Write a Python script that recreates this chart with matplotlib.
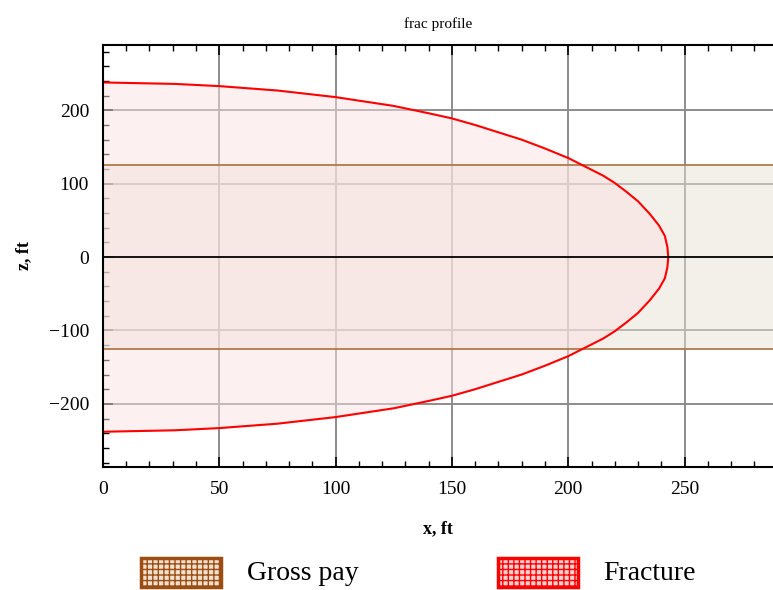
import matplotlib.pyplot as plt
from matplotlib.patches import Rectangle
from matplotlib.ticker import MultipleLocator
import numpy as np

# fracture half-height profile
frac_x = [0, 31, 50, 75, 100, 125, 140, 150, 160, 170, 180, 190, 200, 205, 210,
          215, 220, 225, 230, 235, 239, 241.5, 242.6, 243]
frac_z = [238, 236, 233, 227, 218, 206, 196, 189, 180, 170, 160, 148, 135, 127,
          119, 111, 101, 89, 76, 59, 43, 29, 14, 0]
gross_pay = 125
x_ticks = [0, 50, 100, 150, 200, 250]
z_ticks = [-200, -100, 0, 100, 200]

plt.rcParams['font.family'] = ['Liberation Serif', 'DejaVu Serif']

fig = plt.figure(figsize=(7.73, 5.9), dpi=100)
ax = fig.add_axes([0.1332, 0.2085, 0.8668, 0.7152])
xmax = 288
ax.set_xlim(0, xmax)
ax.set_ylim(-286, 289)

# grid
for gx in x_ticks[1:]:
    ax.axvline(gx, color='#8c8c8c', lw=1.4, zorder=1)
for gz in [-200, -100, 100, 200]:
    ax.axhline(gz, color='#8c8c8c', lw=1.4, zorder=1)

# gross pay band
ax.fill_between([0, xmax], -gross_pay, gross_pay, color='#e8e0d4', alpha=0.5, lw=0, zorder=2)
ax.axhline(gross_pay, color='#b07a4a', lw=1.3, zorder=4)
ax.axhline(-gross_pay, color='#b07a4a', lw=1.3, zorder=4)

# fracture
fx = np.array(frac_x)
fz = np.array(frac_z)
ax.fill_between(fx, -fz, fz, color='#fbe2e2', alpha=0.5, lw=0, zorder=3)
ax.plot(np.r_[fx, fx[::-1]], np.r_[fz, -fz[::-1]], color='red', lw=1.5, zorder=5)

ax.axhline(0, color='black', lw=1.3, zorder=5)

ax.spines['right'].set_visible(False)
for s in ['left', 'top', 'bottom']:
    ax.spines[s].set_linewidth(1.5)
    ax.spines[s].set_zorder(6)

ax.set_xticks(x_ticks)
ax.set_yticks(z_ticks)
ax.set_yticklabels(['\u2212200', '\u2212100', '0', '100', '200'])
ax.xaxis.set_minor_locator(MultipleLocator(10))
ax.yaxis.set_minor_locator(MultipleLocator(20))
ax.tick_params(which='both', direction='in', top=True, right=False, labeltop=False)
ax.tick_params(which='major', length=7, width=1.2, labelsize=14, pad=10)
ax.tick_params(which='minor', length=4, width=1.0)

ax.set_title('frac profile', fontsize=11, pad=12)
ax.set_xlabel('x, ft', fontsize=13, fontweight='bold', labelpad=16)
ax.set_ylabel('z, ft', fontsize=13, fontweight='bold', labelpad=12)

# legend below the plot
fig.patches.append(Rectangle((141 / 773, 1 - 587 / 590), 80 / 773, 29 / 590,
                             transform=fig.transFigure, facecolor='#f0e0d0',
                             edgecolor='#9c4e12', lw=2.5, hatch='+++'))
fig.patches.append(Rectangle((498 / 773, 1 - 587 / 590), 80 / 773, 29 / 590,
                             transform=fig.transFigure, facecolor='#fad0d0',
                             edgecolor='red', lw=2.5, hatch='+++'))
fig.text(247 / 773, 1 - 573 / 590, 'Gross pay', fontsize=20, va='center', ha='left')
fig.text(603 / 773, 1 - 573 / 590, 'Fracture', fontsize=20, va='center', ha='left')

fig.savefig('out.png', dpi=100)
